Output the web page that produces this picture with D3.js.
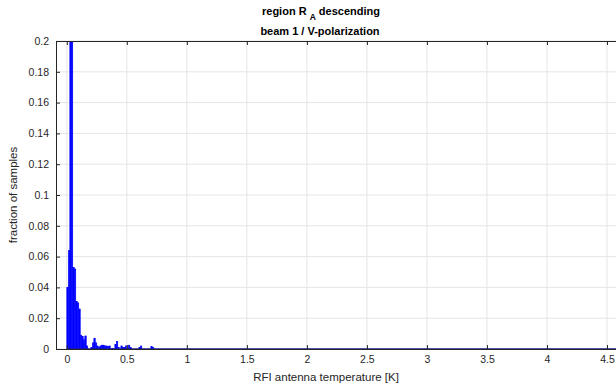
<!DOCTYPE html>
<html>
<head>
<meta charset="utf-8">
<script src="https://cdn.jsdelivr.net/npm/d3@7"></script>
<style>
  html, body { margin: 0; padding: 0; background: #fff; }
  svg { display: block; }
  text { font-family: "Liberation Sans", Arial, Helvetica, sans-serif; }
</style>
</head>
<body>
<svg id="chart" width="616" height="389"></svg>
<script>
// Histogram of RFI antenna temperature, bin width 0.0125 K starting at 0 K
const binWidth = 0.0125;
const fractions = [
  0.040, 0.064, 0.27, 0.33, 0.053, 0.052, 0.031, 0.030, 0.026, 0.009,
  0.008, 0.006, 0.0085, 0.002, 0, 0, 0.001, 0.004, 0.007, 0.004,
  0.002, 0.001, 0.002, 0.0025, 0.0025, 0.002, 0.002, 0.0015, 0.002, 0,
  0.0005, 0, 0.003, 0.005, 0.001, 0, 0.002, 0.001, 0.001, 0.002,
  0, 0.0025, 0.001, 0, 0, 0, 0, 0, 0.001, 0.002,
  0, 0, 0, 0, 0, 0, 0.0015, 0.001
];
const xTicks = [0, 0.5, 1, 1.5, 2, 2.5, 3, 3.5, 4, 4.5];
const yTicks = [0, 0.02, 0.04, 0.06, 0.08, 0.1, 0.12, 0.14, 0.16, 0.18, 0.2];
const xDomain = [-0.09, 4.6];
const yDomain = [0, 0.2];

const svg = d3.select("#chart");
const m = { left: 56, top: 41, right: 619, bottom: 349 };

const x = d3.scaleLinear().domain(xDomain).range([m.left, m.right]);
const y = d3.scaleLinear().domain(yDomain).range([m.bottom, m.top]);

svg.append("defs").append("clipPath").attr("id", "plotClip")
  .append("rect")
  .attr("x", m.left).attr("y", m.top)
  .attr("width", m.right - m.left).attr("height", m.bottom - m.top);

// grid
const grid = svg.append("g");
grid.selectAll(".gx").data(xTicks).join("line")
  .attr("x1", d => x(d)).attr("x2", d => x(d))
  .attr("y1", m.top).attr("y2", m.bottom)
  .attr("stroke", "#e5e5e5").attr("stroke-width", 1);
grid.selectAll(".gy").data(yTicks).join("line")
  .attr("x1", m.left).attr("x2", m.right)
  .attr("y1", d => y(d)).attr("y2", d => y(d))
  .attr("stroke", "#e5e5e5").attr("stroke-width", 1);

// bars
const bins = fractions.map((v, i) => ({ x0: i * binWidth, x1: (i + 1) * binWidth, v }));
const plot = svg.append("g").attr("clip-path", "url(#plotClip)");
plot.selectAll("rect.bar").data(bins.filter(d => d.v > 0)).join("rect")
  .attr("class", "bar")
  .attr("x", d => x(d.x0))
  .attr("width", d => x(d.x1) - x(d.x0))
  .attr("y", d => y(d.v))
  .attr("height", d => y(0) - y(d.v))
  .attr("fill", "#0000ff")
  .attr("stroke", "#0000ff")
  .attr("stroke-width", 0.5);

// axes frame
const axisColor = "#262626";
const gBottom = svg.append("g").attr("transform", `translate(0,${m.bottom})`)
  .call(d3.axisBottom(x).tickValues(xTicks).tickFormat(d3.format("~g")).tickSizeInner(-4).tickSizeOuter(0).tickPadding(7));
const gTop = svg.append("g").attr("transform", `translate(0,${m.top})`)
  .call(d3.axisTop(x).tickValues(xTicks).tickFormat("").tickSizeInner(-4).tickSizeOuter(0));
const gLeft = svg.append("g").attr("transform", `translate(${m.left},0)`)
  .call(d3.axisLeft(y).tickValues(yTicks).tickFormat(d3.format("~g")).tickSizeInner(-4).tickSizeOuter(0).tickPadding(7));

[gBottom, gTop, gLeft].forEach(g => {
  g.select(".domain").attr("stroke", axisColor).attr("stroke-width", 1);
  g.selectAll(".tick line").attr("stroke", axisColor);
  g.selectAll(".tick text").attr("fill", axisColor).attr("font-size", 10.5);
});

// empty bins along the baseline
plot.append("line")
  .attr("x1", x(0)).attr("x2", x(xDomain[1]))
  .attr("y1", y(0)).attr("y2", y(0))
  .attr("stroke", "#1a1a99").attr("stroke-width", 1.5);

// labels
svg.append("text")
  .attr("x", 326).attr("y", 381)
  .attr("text-anchor", "middle").attr("font-size", 11.5).attr("fill", axisColor)
  .text("RFI antenna temperature [K]");
svg.append("text")
  .attr("transform", `translate(17,${(m.top + m.bottom) / 2}) rotate(-90)`)
  .attr("text-anchor", "middle").attr("font-size", 11.5).attr("fill", axisColor)
  .text("fraction of samples");

const t1 = svg.append("text")
  .attr("x", 321).attr("y", 15)
  .attr("text-anchor", "middle").attr("font-size", 11).attr("font-weight", "bold").attr("fill", "#000");
t1.append("tspan").text("region R ");
t1.append("tspan").attr("font-size", 8.5).attr("dy", 5).text("A");
t1.append("tspan").attr("dy", -5).text(" descending");

svg.append("text")
  .attr("x", 320).attr("y", 35)
  .attr("text-anchor", "middle").attr("font-size", 11).attr("font-weight", "bold").attr("fill", "#000")
  .text("beam 1 / V-polarization");
</script>
</body>
</html>
